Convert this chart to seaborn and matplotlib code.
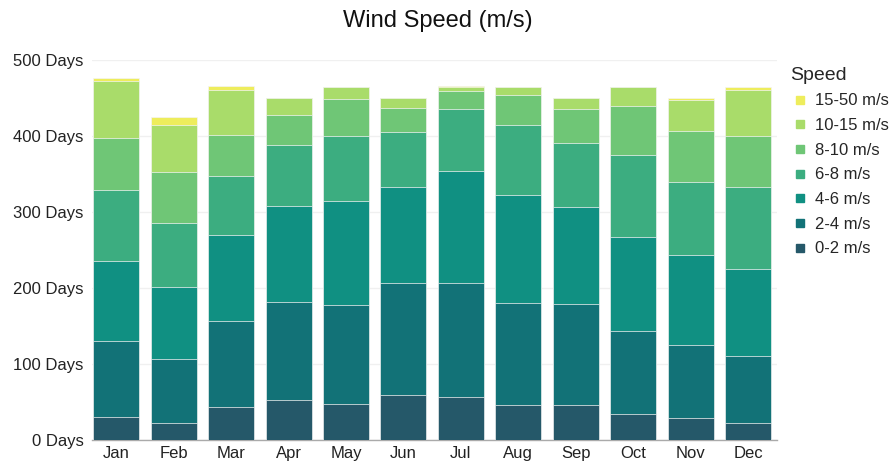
import numpy as np
import pandas as pd
import matplotlib
matplotlib.use("Agg")
import matplotlib.pyplot as plt
from matplotlib.lines import Line2D
import seaborn as sns

# Data (days per speed band, per month)
months = ["Jan", "Feb", "Mar", "Apr", "May", "Jun", "Jul", "Aug", "Sep", "Oct", "Nov", "Dec"]
speeds = ["0-2 m/s", "2-4 m/s", "4-6 m/s", "6-8 m/s", "8-10 m/s", "10-15 m/s", "15-50 m/s"]
s0_2 = [30, 23, 43, 53, 48, 59, 56, 46, 46, 34, 29, 23]
s2_4 = [100, 83, 113, 128, 130, 148, 151, 134, 133, 110, 96, 87]
s4_6 = [105, 96, 114, 127, 137, 126, 147, 142, 127, 123, 118, 115]
s6_8 = [94, 83, 77, 80, 85, 72, 82, 93, 85, 108, 97, 108]
s8_10 = [69, 68, 55, 40, 49, 32, 23, 39, 44, 64, 67, 67]
s10_15 = [74, 62, 58, 22, 16, 13, 6, 11, 15, 25, 41, 61]
s15_50 = [4, 10, 6, 0, 0, 0, 1, 0, 0, 1, 2, 4]
colors = ["#255869", "#127277", "#109082", "#3cad80", "#6fc676", "#a9dc6a", "#eeed5c"]

df = pd.DataFrame({"month": months, "0-2 m/s": s0_2, "2-4 m/s": s2_4, "4-6 m/s": s4_6,
                   "6-8 m/s": s6_8, "8-10 m/s": s8_10, "10-15 m/s": s10_15, "15-50 m/s": s15_50})
cum = df[speeds].cumsum(axis=1)

sns.set_style("white")
plt.rcParams["font.family"] = ["Liberation Sans", "DejaVu Sans"]

fig = plt.figure(figsize=(8.94, 4.62), dpi=100)
ax = fig.add_axes([0.103, 0.0476, 0.766, 0.8224])

# draw the tallest cumulative layer first, then overlay the lower ones
for sp, col in zip(reversed(speeds), reversed(colors)):
    sns.barplot(x=df["month"], y=cum[sp], color=col, width=0.8, saturation=1,
                edgecolor="#f4f4f4", linewidth=0.5, ax=ax, zorder=3)

ax.set_ylim(0, 500)
ax.set_xlim(-0.42, 11.5)
ax.set_yticks(range(0, 501, 100))
ax.set_yticklabels([f"{v} Days" for v in range(0, 501, 100)], fontsize=12, color="#222222")
ax.tick_params(axis="x", labelsize=12, colors="#222222", length=0, pad=4)
ax.tick_params(axis="y", length=4, width=0.8, color="#bbbbbb", pad=2)
ax.grid(axis="y", color="#f0f0f0", linewidth=1, zorder=0)
ax.set_xlabel("")
ax.set_ylabel("")
for side in ["top", "right", "left"]:
    ax.spines[side].set_visible(False)
ax.spines["bottom"].set_color("#aaaaaa")
ax.spines["bottom"].set_linewidth(1)

fig.suptitle("Wind Speed (m/s)", fontsize=17, x=0.49, y=0.978, color="#111111")

handles = [Line2D([0], [0], marker="s", linestyle="", markersize=6, color=c)
           for c in reversed(colors)]
leg = ax.legend(handles, list(reversed(speeds)), title="Speed", frameon=False,
                loc="upper left", bbox_to_anchor=(1.01, 1.0), fontsize=12,
                title_fontsize=14, handletextpad=0.3, labelspacing=0.58,
                handlelength=1.2, borderaxespad=0)
leg._legend_box.align = "left"

fig.savefig("out.png", dpi=100, facecolor="white")
